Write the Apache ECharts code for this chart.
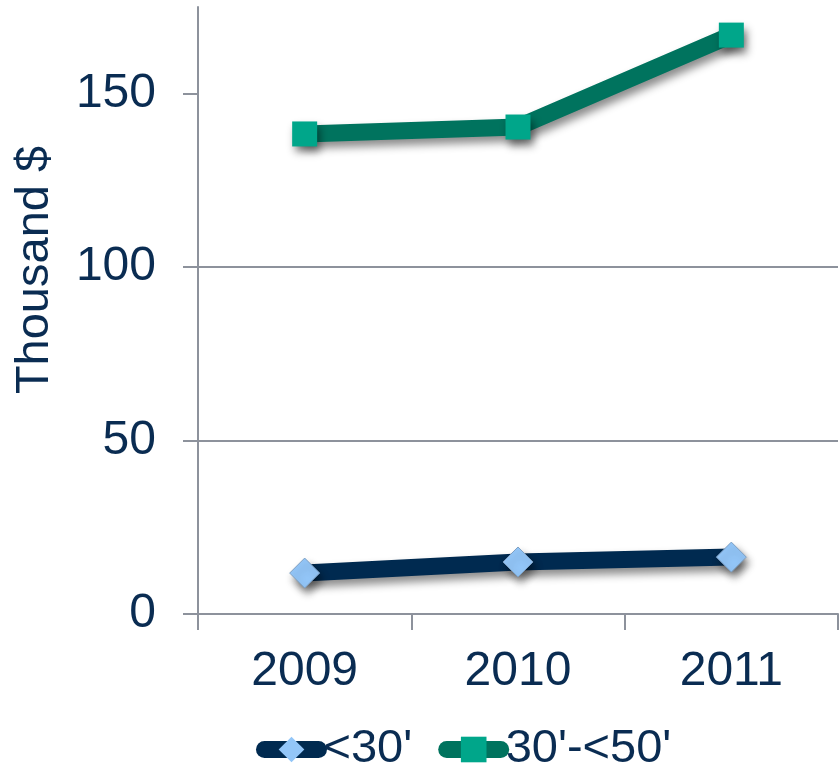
<!DOCTYPE html>
<html>
<head>
<meta charset="utf-8">
<script src="https://cdn.jsdelivr.net/npm/echarts@6/dist/echarts.min.js"></script>
<style>
  html, body { margin: 0; padding: 0; background: #fff; }
  #chart { width: 839px; height: 769px; }
</style>
</head>
<body>
<div id="chart"></div>
<script>
const years = ['2009', '2010', '2011'];
const under30 = [11.8, 15.0, 16.4];
const from30to50 = [138.4, 140.4, 166.9];
const yTicks = [0, 50, 100, 150];

const textColor = '#0a2c52';
const gridColor = '#8d929c';
const font = 'Liberation Sans, Arial, sans-serif';

const chart = echarts.init(document.getElementById('chart'));

const shadow = {
  shadowColor: 'rgba(0, 0, 0, 0.45)',
  shadowBlur: 8,
  shadowOffsetX: 3,
  shadowOffsetY: 6,
};

const option = {
  animation: false,
  grid: { left: 198, right: 1, top: 7, bottom: 155 },
  graphic: [{
    type: 'text',
    x: 35,
    y: 270,
    rotation: Math.PI / 2,
    style: {
      text: 'Thousand $',
      fill: textColor,
      font: '47px ' + font,
      textAlign: 'center',
      textVerticalAlign: 'middle',
    },
  }],
  legend: {
    left: 251,
    top: 721,
    itemWidth: 54,
    itemHeight: 32,
    itemGap: 26,
    lineStyle: { width: 17, cap: 'round', shadowBlur: 0, shadowOffsetX: 0, shadowOffsetY: 0 },
    itemStyle: { shadowBlur: 0, shadowOffsetX: 0, shadowOffsetY: 0, borderWidth: 0 },
    textStyle: { color: textColor, fontSize: 47, fontFamily: font },
    data: ["<30'", "30'-<50'"],
  },
  xAxis: {
    type: 'category',
    data: years,
    boundaryGap: true,
    axisLine: { lineStyle: { color: gridColor, width: 2 } },
    axisTick: { show: true, length: 16, lineStyle: { color: gridColor, width: 2 } },
    axisLabel: { color: textColor, fontSize: 48, fontFamily: font, margin: 34 },
  },
  yAxis: {
    type: 'value',
    min: 0,
    max: 175,
    interval: 50,
    axisLine: { show: true, lineStyle: { color: gridColor, width: 2 } },
    axisTick: { show: true, length: 15, customValues: yTicks, lineStyle: { color: gridColor, width: 2 } },
    axisLabel: { color: textColor, fontSize: 48, fontFamily: font, margin: 42, customValues: yTicks },
    splitLine: { show: true, showMaxLine: false, lineStyle: { color: gridColor, width: 2 } },
  },
  series: [
    {
      name: "<30'",
      type: 'line',
      data: under30,
      symbol: 'diamond',
      symbolSize: 30,
      lineStyle: Object.assign({ color: '#002a50', width: 17, cap: 'round' }, shadow),
      itemStyle: Object.assign({ color: '#93c6f8', borderColor: '#7d9fc2', borderWidth: 1 }, shadow),
      z: 3,
    },
    {
      name: "30'-<50'",
      type: 'line',
      data: from30to50,
      symbol: 'rect',
      symbolSize: 25,
      lineStyle: Object.assign({ color: '#00735e', width: 17, cap: 'round' }, shadow),
      itemStyle: Object.assign({ color: '#00a68a', borderWidth: 0 }, shadow),
      z: 3,
    },
  ],
};

chart.setOption(option);
</script>
</body>
</html>
